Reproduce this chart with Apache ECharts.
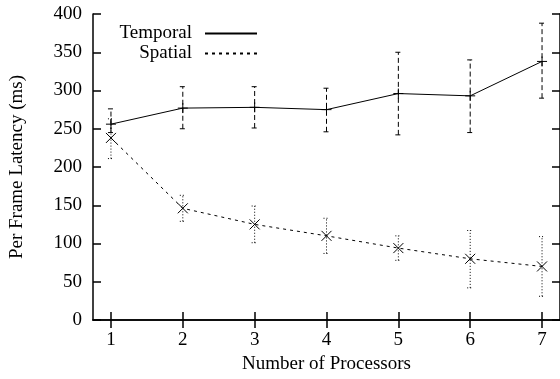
<!DOCTYPE html>
<html>
<head>
<meta charset="utf-8">
<script src="https://cdn.jsdelivr.net/npm/echarts@6/dist/echarts.min.js"></script>
<style>
  html, body { margin: 0; padding: 0; background: #fff; }
  #chart { width: 560px; height: 379px; }
</style>
</head>
<body>
<div id="chart"></div>
<script>
  // data
  var procs = [1, 2, 3, 4, 5, 6, 7];
  var temporalMean = [256, 277, 278, 275, 296, 293, 338];
  var temporalLow = [245, 250, 251, 246, 242, 245, 290];
  var temporalHigh = [276, 305, 305, 303, 350, 340, 388];
  var spatialMean = [238, 146, 125, 110, 94, 80, 70];
  var spatialLow = [211, 129, 101, 87, 78, 42, 31];
  var spatialHigh = [263, 163, 149, 133, 110, 117, 109];
  var xTicks = [1, 2, 3, 4, 5, 6, 7];

  var font = 'Liberation Serif';
  var fs = 19;

  function pairs(ys) {
    return procs.map(function (p, i) { return [p, ys[i]]; });
  }
  function errRows(lo, mid, hi) {
    return procs.map(function (p, i) { return [p, lo[i], mid[i], hi[i]]; });
  }

  // error bar with small caps plus the point marker
  function errRender(marker, dash) {
    return function (params, api) {
      var x = api.value(0);
      var lo = api.coord([x, api.value(1)]);
      var mid = api.coord([x, api.value(2)]);
      var hi = api.coord([x, api.value(3)]);
      var cap = 3, m = 5;
      var barStyle = { stroke: '#000', lineWidth: 1, lineDash: dash };
      var solid = { stroke: '#000', lineWidth: 1 };
      var kids = [
        { type: 'line', shape: { x1: lo[0], y1: lo[1], x2: hi[0], y2: hi[1] }, style: barStyle },
        { type: 'line', shape: { x1: hi[0] - cap, y1: hi[1], x2: hi[0] + cap, y2: hi[1] }, style: barStyle },
        { type: 'line', shape: { x1: lo[0] - cap, y1: lo[1], x2: lo[0] + cap, y2: lo[1] }, style: barStyle }
      ];
      if (marker === 'plus') {
        kids.push({ type: 'line', shape: { x1: mid[0] - m, y1: mid[1], x2: mid[0] + m, y2: mid[1] }, style: solid });
        kids.push({ type: 'line', shape: { x1: mid[0], y1: mid[1] - m, x2: mid[0], y2: mid[1] + m }, style: solid });
      } else {
        kids.push({ type: 'line', shape: { x1: mid[0] - m, y1: mid[1] - m, x2: mid[0] + m, y2: mid[1] + m }, style: solid });
        kids.push({ type: 'line', shape: { x1: mid[0] - m, y1: mid[1] + m, x2: mid[0] + m, y2: mid[1] - m }, style: solid });
      }
      return { type: 'group', children: kids };
    };
  }

  var chart = echarts.init(document.getElementById('chart'));

  var axisLine = { show: true, lineStyle: { color: '#000', width: 1.5 } };
  var tickStyle = { show: true, inside: true, length: 8, lineStyle: { color: '#000', width: 1.5 } };

  chart.setOption({
    animation: false,
    backgroundColor: '#fff',
    textStyle: { fontFamily: font },
    grid: { left: 93, right: -1, top: 14, bottom: 56 },
    legend: {
      data: ['Temporal', 'Spatial'],
      orient: 'vertical',
      align: 'right',
      right: 302,
      top: 24,
      padding: 0,
      itemGap: 1,
      itemWidth: 52,
      itemHeight: 10,
      itemStyle: { opacity: 0 },
      textStyle: { fontFamily: font, fontSize: fs, color: '#000', lineHeight: 18, padding: [0, 8, 0, 0] }
    },
    xAxis: [{
      type: 'value',
      min: 0.75,
      max: 7.25,
      name: 'Number of Processors',
      nameLocation: 'middle',
      nameGap: 35,
      nameTextStyle: { fontFamily: font, fontSize: fs, color: '#000' },
      axisLine: axisLine,
      axisTick: Object.assign({ customValues: xTicks }, tickStyle),
      axisLabel: { customValues: xTicks, fontFamily: font, fontSize: fs, color: '#000', margin: 11 },
      splitLine: { show: false }
    }, {
      type: 'value',
      position: 'top',
      min: 0.75,
      max: 7.25,
      axisLine: axisLine,
      axisTick: Object.assign({ customValues: xTicks }, tickStyle),
      axisLabel: { show: false },
      splitLine: { show: false }
    }],
    yAxis: [{
      type: 'value',
      min: 0,
      max: 400,
      interval: 50,
      name: 'Per Frame Latency (ms)',
      nameLocation: 'middle',
      nameRotate: 90,
      nameGap: 66,
      nameTextStyle: { fontFamily: font, fontSize: fs, color: '#000' },
      axisLine: axisLine,
      axisTick: tickStyle,
      axisLabel: { fontFamily: font, fontSize: fs, color: '#000', margin: 11 },
      splitLine: { show: false }
    }, {
      type: 'value',
      position: 'right',
      min: 0,
      max: 400,
      interval: 50,
      axisLine: axisLine,
      axisTick: tickStyle,
      axisLabel: { show: false },
      splitLine: { show: false }
    }],
    series: [{
      name: 'Temporal',
      type: 'line',
      data: pairs(temporalMean),
      symbol: 'none',
      lineStyle: { color: '#000', width: 1 },
      itemStyle: { color: '#000' },
      z: 3
    }, {
      name: 'Spatial',
      type: 'line',
      data: pairs(spatialMean),
      symbol: 'none',
      lineStyle: { color: '#000', width: 1, type: [3, 4] },
      itemStyle: { color: '#000' },
      z: 3
    }, {
      name: 'TemporalErr',
      type: 'custom',
      data: errRows(temporalLow, temporalMean, temporalHigh),
      encode: { x: 0, y: [1, 2, 3] },
      renderItem: errRender('plus', [5, 3]),
      z: 2
    }, {
      name: 'SpatialErr',
      type: 'custom',
      data: errRows(spatialLow, spatialMean, spatialHigh),
      encode: { x: 0, y: [1, 2, 3] },
      renderItem: errRender('cross', [1, 2]),
      z: 2
    }]
  });
</script>
</body>
</html>
